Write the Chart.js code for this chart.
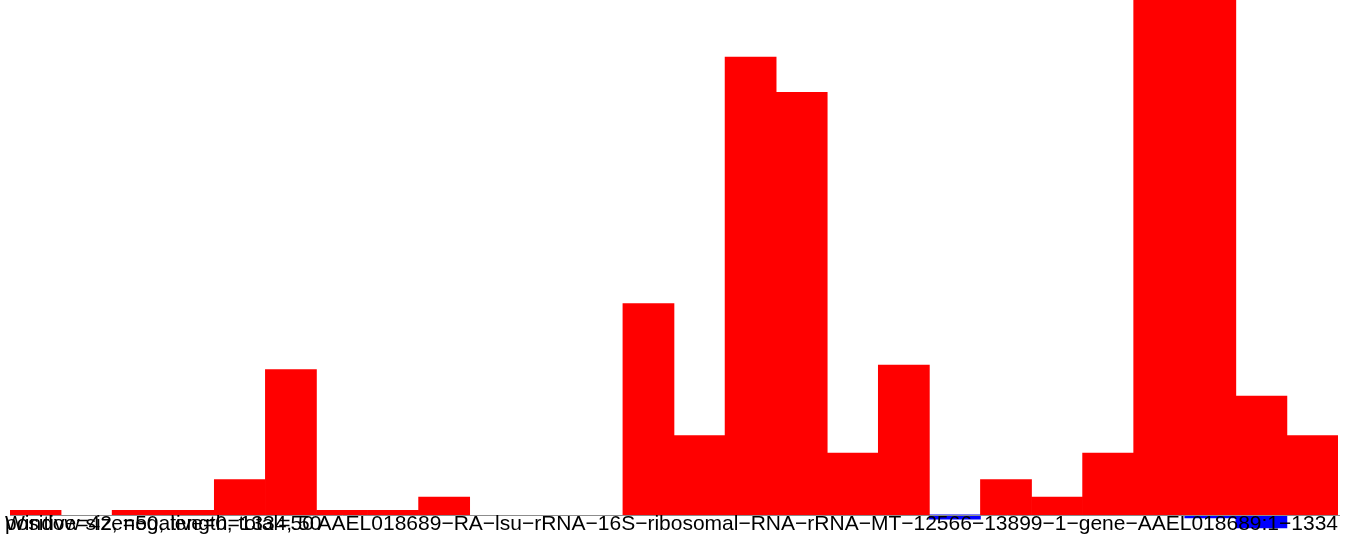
<!DOCTYPE html>
<html>
<head>
<meta charset="utf-8">
<script src="https://cdn.jsdelivr.net/npm/chart.js@4"></script>
<style>
  html, body { margin: 0; padding: 0; background: #fff; }
  #wrap { width: 1347px; height: 550px; }
</style>
</head>
<body>
<div id="wrap"><canvas id="c" width="1347" height="550"></canvas></div>
<script>
// Window bins (50 nt windows across 1334 nt)
const bins = ["1","51","101","151","201","251","301","351","401","451","501","551","601","651","701","751","801","851","901","951","1001","1051","1101","1151","1201","1251"];
// Positive-strand counts per window (red); null = empty window
const positiveCounts = [1,null,1,1,8,33,1,1,4,null,null,null,48,18,104,96,14,34,null,8,4,14,130,130,27,18];
// Negative-strand counts per window (blue, drawn downward)
const negativeCounts = [null,null,null,null,null,null,null,null,null,null,null,null,null,null,null,null,null,null,-1,null,null,null,null,-0.7,-3,null];
// Annotation texts
const infoLine1 = "Window size=50, length=1334, 50";
const infoLine2 = "positive=42, negative=0, total=50";
const geneName = "AAEL018689\u2212RA\u2212lsu\u2212rRNA\u221216S\u2212ribosomal\u2212RNA\u2212rRNA\u2212MT\u221212566\u221213899\u22121\u2212gene\u2212AAEL018689:1\u22121334";

const overlay = {
  id: 'overlay',
  afterDatasetsDraw(chart) {
    const ctx = chart.ctx;
    const y0 = chart.scales.y.getPixelForValue(0);
    const area = chart.chartArea;
    ctx.save();
    ctx.strokeStyle = '#8c8c8c';
    ctx.lineWidth = 1;
    ctx.beginPath();
    ctx.moveTo(area.left, Math.round(y0) + 0.5);
    ctx.lineTo(area.right + 2, Math.round(y0) + 0.5);
    ctx.stroke();
    ctx.fillStyle = '#000';
    ctx.font = '21px "Liberation Sans", Arial, sans-serif';
    ctx.textBaseline = 'alphabetic';
    ctx.textAlign = 'left';
    const by = y0 + 15.5;
    ctx.fillText(infoLine1, 5, by);
    ctx.fillText(infoLine2, 5, by);
    ctx.textAlign = 'right';
    ctx.fillText(geneName, area.right, by);
    ctx.restore();
  }
};

new Chart(document.getElementById('c'), {
  type: 'bar',
  data: {
    labels: bins,
    datasets: [
      { data: positiveCounts, backgroundColor: '#ff0000', borderWidth: 0, grouped: false, barPercentage: 1, categoryPercentage: 1 },
      { data: negativeCounts, backgroundColor: '#0000ff', borderWidth: 0, grouped: false, barPercentage: 1, categoryPercentage: 1 }
    ]
  },
  options: {
    responsive: false,
    devicePixelRatio: 1,
    animation: false,
    layout: { padding: { left: 10, right: 9, top: 0, bottom: 0 } },
    plugins: { legend: { display: false }, tooltip: { enabled: false } },
    scales: {
      x: { display: false },
      y: { display: false, min: -8, max: 117 }
    }
  },
  plugins: [overlay]
});
</script>
</body>
</html>
